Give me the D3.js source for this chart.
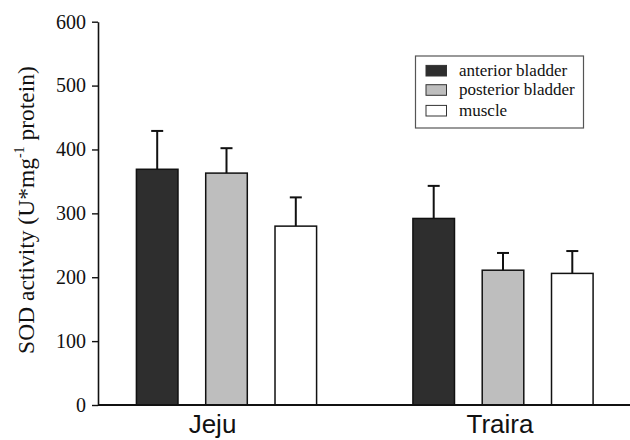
<!DOCTYPE html>
<html>
<head>
<meta charset="utf-8">
<script src="https://cdn.jsdelivr.net/npm/d3@7"></script>
<style>
  html, body { margin: 0; padding: 0; background: #fff; }
  svg { display: block; }
</style>
</head>
<body>
<svg id="chart" width="630" height="440"></svg>
<script>
// ---- data ----
const groups = ["Jeju", "Traira"];
const series = ["anterior bladder", "posterior bladder", "muscle"];
const means = {
  "anterior bladder":  [369, 292],
  "posterior bladder": [363, 211],
  "muscle":            [280, 206]
};
const errors = {
  "anterior bladder":  [60, 51],
  "posterior bladder": [39, 27],
  "muscle":            [45, 35]
};
const yTicks = [0, 100, 200, 300, 400, 500, 600];
const fills = ["#2e2e2e", "#bebebe", "#ffffff"];

// ---- layout ----
const svg = d3.select("#chart");
const axisX = 98, axisBottom = 405, axisTop = 21.7;
const labelDx = [-14, -3];

const y = d3.scaleLinear().domain([0, 600]).range([axisBottom, axisTop]);
const x0 = d3.scaleBand().domain(groups).range([88.25, 641.25]).padding(0);
const x1 = d3.scaleBand().domain(series).range([0, x0.bandwidth()])
  .paddingInner(0.4).paddingOuter(0.695);
const color = d3.scaleOrdinal().domain(series).range(fills);

const serif = "'Liberation Serif', 'Times New Roman', Times, serif";
const sans = "'Liberation Sans', Arial, Helvetica, sans-serif";

// bars
const rows = [];
series.forEach(s => groups.forEach((g, i) => rows.push({s, g, v: means[s][i], e: errors[s][i]})));

const gBars = svg.append("g");
rows.forEach(d => {
  const cx = x0(d.g) + x1(d.s) + x1.bandwidth() / 2;
  gBars.append("line")
    .attr("x1", cx).attr("x2", cx)
    .attr("y1", y(d.v)).attr("y2", y(d.v + d.e))
    .attr("stroke", "#111").attr("stroke-width", 2);
  gBars.append("line")
    .attr("x1", cx - 6).attr("x2", cx + 6)
    .attr("y1", y(d.v + d.e)).attr("y2", y(d.v + d.e))
    .attr("stroke", "#111").attr("stroke-width", 2);
});
gBars.selectAll("rect").data(rows).join("rect")
  .attr("x", d => x0(d.g) + x1(d.s))
  .attr("y", d => y(d.v))
  .attr("width", x1.bandwidth())
  .attr("height", d => y(0) - y(d.v))
  .attr("fill", d => color(d.s))
  .attr("stroke", "#111")
  .attr("stroke-width", 1.5);

// y axis
const yAxis = d3.axisLeft(y).tickValues(yTicks).tickSize(6).tickPadding(6).tickSizeOuter(0);
const gy = svg.append("g").attr("transform", `translate(${axisX},0)`).call(yAxis);
gy.attr("font-family", null).attr("font-size", null);
gy.select(".domain").attr("stroke", "#111").attr("stroke-width", 1.6);
gy.selectAll(".tick line").attr("stroke", "#111").attr("stroke-width", 1.4);
gy.selectAll(".tick text")
  .style("font-family", serif).style("font-size", "20px").attr("fill", "#111");

// x axis line
const xAxis = d3.axisBottom(x0).tickSize(0).tickPadding(12).tickSizeOuter(0);
const gx = svg.append("g").attr("transform", `translate(0,${axisBottom})`).call(xAxis);
gx.attr("font-family", null).attr("font-size", null);
gx.select(".domain").attr("d", `M${axisX},0H630`).attr("stroke", "#111").attr("stroke-width", 2);
gx.selectAll(".tick text")
  .style("font-family", sans).style("font-size", "26px").attr("fill", "#111")
  .attr("dx", (d, i) => labelDx[i]).attr("dy", "0.62em");

// y title
const title = svg.append("text")
  .attr("transform", `translate(34,210) rotate(-90)`)
  .attr("text-anchor", "middle")
  .style("font-family", serif).style("font-size", "23.5px").attr("fill", "#111");
title.append("tspan").text("SOD activity (U*mg");
title.append("tspan").style("font-size", "14px").attr("dy", -10).text("-1");
title.append("tspan").attr("dy", 10).text(" protein)");

// legend
const lg = svg.append("g");
lg.append("rect").attr("x", 415.5).attr("y", 56).attr("width", 168).attr("height", 72)
  .attr("fill", "#fff").attr("stroke", "#555").attr("stroke-width", 1.2);
const rowY = [70.7, 90, 110.7];
series.forEach((s, i) => {
  lg.append("rect").attr("x", 426).attr("y", rowY[i] - 5.3).attr("width", 20.5).attr("height", 10.6)
    .attr("fill", color(s)).attr("stroke", "#333").attr("stroke-width", 1);
  lg.append("text").attr("x", 459).attr("y", rowY[i] + 5)
    .style("font-family", serif).style("font-size", "17px").attr("fill", "#111").text(s);
});
</script>
</body>
</html>
